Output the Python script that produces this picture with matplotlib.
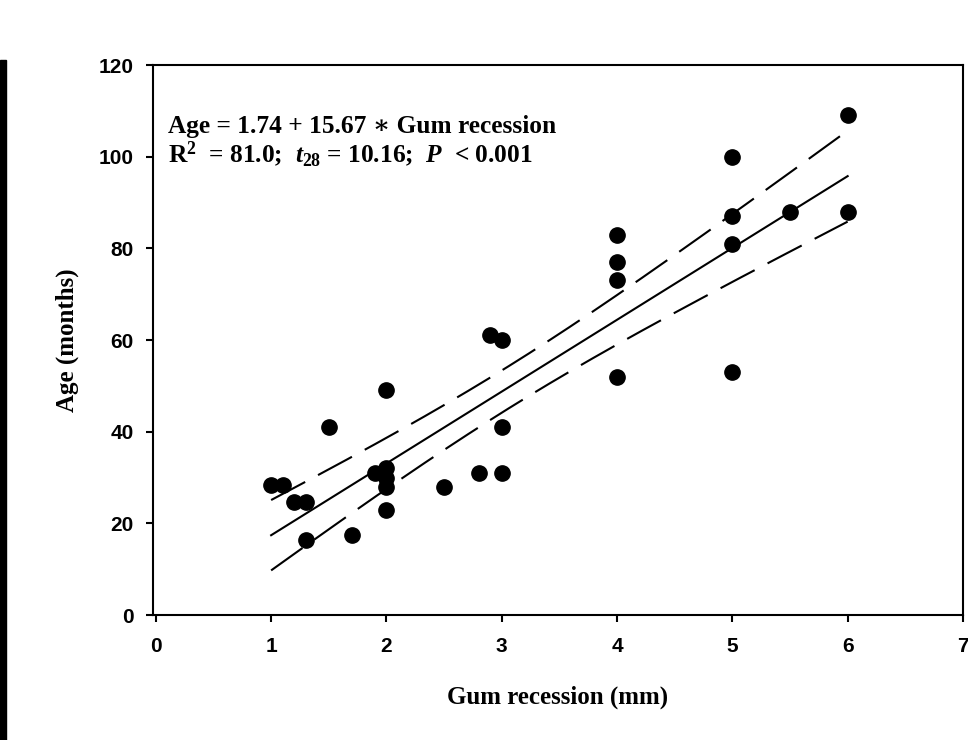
import numpy as np
import matplotlib.pyplot as plt
from matplotlib.patches import Rectangle

plt.rcParams['mathtext.fontset'] = 'custom'
plt.rcParams['mathtext.rm'] = 'Liberation Serif:bold'
plt.rcParams['mathtext.it'] = 'Liberation Serif:italic:bold'
plt.rcParams['mathtext.bf'] = 'Liberation Serif:bold'

# data
gum = [1.0, 1.1, 1.2, 1.3, 1.3, 1.5, 1.7, 1.9, 2.0, 2.0, 2.0, 2.0, 2.0, 2.5, 2.8,
       2.9, 3.0, 3.0, 3.0, 4.0, 4.0, 4.0, 4.0, 5.0, 5.0, 5.0, 5.0, 5.5, 6.0, 6.0]
age = [28.4, 28.4, 24.7, 24.7, 16.4, 41, 17.5, 31, 32, 30, 28, 23, 49, 28, 31,
       61, 60, 41, 31, 83, 77, 73, 52, 100, 87, 81, 53, 88, 109, 88]

intercept, slope = 1.74, 15.67   # printed regression
t_crit = 2.048                   # t(0.975, 28)

xticks = [0, 1, 2, 3, 4, 5, 6, 7]
yticks = [0, 20, 40, 60, 80, 100, 120]

gum = np.array(gum)
age = np.array(age)
n = len(gum)
resid = age - (intercept + slope * gum)
s = np.sqrt(np.sum(resid**2) / (n - 2))
sxx = np.sum((gum - gum.mean())**2)

xf = np.linspace(gum.min(), gum.max(), 200)
yf = intercept + slope * xf
half = t_crit * s * np.sqrt(1.0 / n + (xf - gum.mean())**2 / sxx)

fig = plt.figure(figsize=(9.68, 7.4), dpi=100)
ax = fig.add_axes([0.158, 0.1689, 0.8368, 0.7432])

ax.plot(gum, age, 'o', color='black', ms=11, zorder=3)
ax.plot(xf, yf, color='black', lw=1.5)
for band in (yf + half, yf - half):
    ax.plot(xf, band, color='black', lw=1.5, ls=(0, (18.5, 7)))

ax.set_xlim(-0.025, 7)
ax.set_ylim(0, 120)
ax.set_xticks(xticks)
ax.set_yticks(yticks)
for sp in ax.spines.values():
    sp.set_linewidth(1.5)
ax.tick_params(direction='out', length=5, width=1.5)
ax.tick_params(axis='x', pad=11)
ax.tick_params(axis='y', pad=9)
for lab in ax.get_xticklabels() + ax.get_yticklabels():
    lab.set_fontfamily('Liberation Sans')
    lab.set_fontweight('bold')
    lab.set_fontsize(15)

ax.set_xlabel('Gum recession (mm)', family='Liberation Serif', weight='bold',
              fontsize=18, va='center')
ax.xaxis.set_label_coords(0.5, -0.149)
ax.set_ylabel('Age (months)', family='Liberation Serif', weight='bold',
              fontsize=18, va='center')
ax.yaxis.set_label_coords(-0.106, 0.5)

ax.text(0.0185, 0.8764, 'Age = 1.74 + 15.67 \u2217 Gum recession',
        transform=ax.transAxes, family=['Liberation Serif', 'DejaVu Serif'],
        weight='bold', fontsize=18.3, va='baseline')
ax.text(0.0185, 0.8236, 'R$^2$  = 81.0;  $t_{28}$ = 10.16;  $P$  < 0.001',
        transform=ax.transAxes, family='Liberation Serif', weight='bold',
        fontsize=18.3, va='baseline')

# dark scanner edge on the left
fig.patches.append(Rectangle((0, 0), 6 / 968, 680 / 740, transform=fig.transFigure,
                             color='black', zorder=0))

fig.savefig('out.png', dpi=100)
